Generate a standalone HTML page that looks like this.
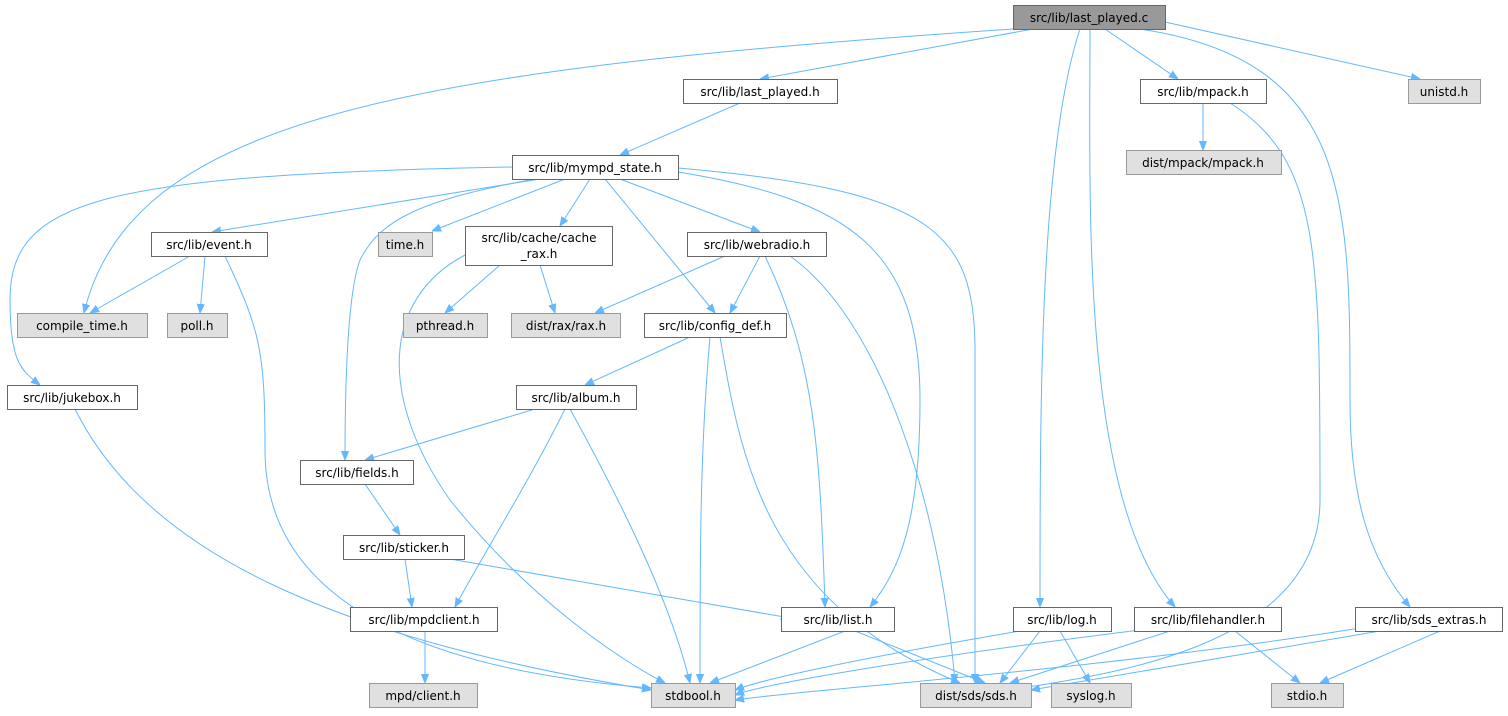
<!DOCTYPE html>
<html><head><meta charset="utf-8"><style>
html,body{margin:0;padding:0;background:#fff;}
svg text{font-family:"DejaVu Sans","Liberation Sans",sans-serif;font-size:12px;fill:#000;}
</style></head><body>
<svg width="1508" height="711" viewBox="0 0 1508 711" xmlns="http://www.w3.org/2000/svg">
<defs><marker id="a" viewBox="0 0 10 10" refX="10" refY="5" markerWidth="9" markerHeight="9" orient="auto" markerUnits="userSpaceOnUse"><path d="M0,1 L10,5 L0,9 z" fill="#63b8ff" stroke="#63b8ff"/></marker></defs>
<g fill="none" stroke="#63b8ff" stroke-width="1" marker-end="url(#a)">
<path d="M1033,29 L760,79"/>
<path d="M1013,29 C400,70 130,120 84,313"/>
<path d="M1080,29 C1040,150 1040,400 1040,607"/>
<path d="M1090,29 C1090,200 1080,500 1175,607"/>
<path d="M1105,29 L1178,79"/>
<path d="M1140,29 C1350,60 1350,200 1350,400 C1350,500 1370,560 1410,607"/>
<path d="M1165,22 L1420,79"/>
<path d="M740,103 L620,155"/>
<path d="M1203,103 L1203,150"/>
<path d="M1230,103 C1320,160 1320,250 1320,500 C1320,650 1100,675 1010,690"/>
<path d="M540,179 L212,232"/>
<path d="M565,179 L432,231"/>
<path d="M590,179 L560,226"/>
<path d="M620,179 L760,232"/>
<path d="M605,179 L715,313"/>
<path d="M512,167 C100,175 10,200 10,300 C10,360 20,370 40,385"/>
<path d="M535,179 C420,200 380,220 360,260 C345,300 345,420 345,460"/>
<path d="M678,172 C850,200 920,250 920,400 C920,520 900,570 870,607"/>
<path d="M678,168 C930,190 975,230 975,350 L975,683"/>
<path d="M190,256 L90,313"/>
<path d="M205,256 L200,313"/>
<path d="M225,256 C260,330 265,350 265,450 C265,600 420,670 651,688"/>
<path d="M500,265 L445,313"/>
<path d="M540,265 L555,313"/>
<path d="M465,255 C380,300 380,400 450,500 C530,600 620,660 665,683"/>
<path d="M725,256 L595,313"/>
<path d="M760,256 L730,313"/>
<path d="M765,256 C815,360 820,450 825,607"/>
<path d="M790,256 C880,320 940,500 955,683"/>
<path d="M690,337 L585,385"/>
<path d="M710,337 C700,450 700,550 700,683"/>
<path d="M720,337 C740,450 760,600 960,683"/>
<path d="M535,409 L365,460"/>
<path d="M565,409 C530,480 480,560 455,607"/>
<path d="M570,409 C620,500 670,600 690,683"/>
<path d="M365,484 L400,535"/>
<path d="M405,559 L412,607"/>
<path d="M450,559 L790,618"/>
<path d="M425,631 L425,683"/>
<path d="M75,409 C150,560 350,640 651,690"/>
<path d="M845,631 L710,683"/>
<path d="M855,631 L985,683"/>
<path d="M1020,631 C850,660 760,680 735,690"/>
<path d="M1040,631 L1000,683"/>
<path d="M1060,631 L1090,683"/>
<path d="M1140,630 C900,660 760,685 735,695"/>
<path d="M1170,631 L1010,683"/>
<path d="M1235,631 L1300,683"/>
<path d="M1360,628 C1100,670 800,690 735,700"/>
<path d="M1380,631 L1031,690"/>
<path d="M1440,631 L1320,683"/>
</g>
<g stroke-width="1">
<rect x="1013.5" y="5.5" width="152" height="24" fill="#999" stroke="#666"/><text x="1089" y="22" text-anchor="middle">src/lib/last_played.c</text>
<rect x="683.5" y="79.5" width="154" height="24" fill="#fff" stroke="#666"/><text x="760" y="96" text-anchor="middle">src/lib/last_played.h</text>
<rect x="1140.5" y="79.5" width="126" height="24" fill="#fff" stroke="#666"/><text x="1203" y="96" text-anchor="middle">src/lib/mpack.h</text>
<rect x="1408.5" y="79.5" width="72" height="24" fill="#e0e0e0" stroke="#999"/><text x="1444" y="96" text-anchor="middle">unistd.h</text>
<rect x="1126.5" y="150.5" width="155" height="24" fill="#e0e0e0" stroke="#999"/><text x="1203" y="167" text-anchor="middle">dist/mpack/mpack.h</text>
<rect x="512.5" y="155.5" width="166" height="24" fill="#fff" stroke="#666"/><text x="595" y="172" text-anchor="middle">src/lib/mympd_state.h</text>
<rect x="151.5" y="232.5" width="116" height="24" fill="#fff" stroke="#666"/><text x="209" y="249" text-anchor="middle">src/lib/event.h</text>
<rect x="378.5" y="232.5" width="54" height="24" fill="#e0e0e0" stroke="#999"/><text x="405" y="249" text-anchor="middle">time.h</text>
<rect x="465.5" y="226.5" width="147" height="39" fill="#fff" stroke="#666"/><text x="539" y="242" text-anchor="middle">src/lib/cache/cache</text><text x="539" y="258" text-anchor="middle">_rax.h</text>
<rect x="687.5" y="232.5" width="139" height="24" fill="#fff" stroke="#666"/><text x="757" y="249" text-anchor="middle">src/lib/webradio.h</text>
<rect x="17.5" y="313.5" width="130" height="24" fill="#e0e0e0" stroke="#999"/><text x="82" y="330" text-anchor="middle">compile_time.h</text>
<rect x="167.5" y="313.5" width="60" height="24" fill="#e0e0e0" stroke="#999"/><text x="197" y="330" text-anchor="middle">poll.h</text>
<rect x="403.5" y="313.5" width="84" height="24" fill="#e0e0e0" stroke="#999"/><text x="445" y="330" text-anchor="middle">pthread.h</text>
<rect x="511.5" y="313.5" width="109" height="24" fill="#e0e0e0" stroke="#999"/><text x="566" y="330" text-anchor="middle">dist/rax/rax.h</text>
<rect x="644.5" y="313.5" width="142" height="24" fill="#fff" stroke="#666"/><text x="715" y="330" text-anchor="middle">src/lib/config_def.h</text>
<rect x="7.5" y="385.5" width="130" height="24" fill="#fff" stroke="#666"/><text x="72" y="402" text-anchor="middle">src/lib/jukebox.h</text>
<rect x="516.5" y="385.5" width="120" height="24" fill="#fff" stroke="#666"/><text x="576" y="402" text-anchor="middle">src/lib/album.h</text>
<rect x="300.5" y="460.5" width="113" height="24" fill="#fff" stroke="#666"/><text x="357" y="477" text-anchor="middle">src/lib/fields.h</text>
<rect x="343.5" y="535.5" width="121" height="24" fill="#fff" stroke="#666"/><text x="404" y="552" text-anchor="middle">src/lib/sticker.h</text>
<rect x="350.5" y="607.5" width="147" height="24" fill="#fff" stroke="#666"/><text x="424" y="624" text-anchor="middle">src/lib/mpdclient.h</text>
<rect x="781.5" y="607.5" width="113" height="24" fill="#fff" stroke="#666"/><text x="838" y="624" text-anchor="middle">src/lib/list.h</text>
<rect x="1013.5" y="607.5" width="98" height="24" fill="#fff" stroke="#666"/><text x="1062" y="624" text-anchor="middle">src/lib/log.h</text>
<rect x="1134.5" y="607.5" width="147" height="24" fill="#fff" stroke="#666"/><text x="1208" y="624" text-anchor="middle">src/lib/filehandler.h</text>
<rect x="1355.5" y="607.5" width="147" height="24" fill="#fff" stroke="#666"/><text x="1429" y="624" text-anchor="middle">src/lib/sds_extras.h</text>
<rect x="369.5" y="683.5" width="108" height="24" fill="#e0e0e0" stroke="#999"/><text x="423" y="700" text-anchor="middle">mpd/client.h</text>
<rect x="651.5" y="683.5" width="84" height="24" fill="#e0e0e0" stroke="#999"/><text x="693" y="700" text-anchor="middle">stdbool.h</text>
<rect x="920.5" y="683.5" width="111" height="24" fill="#e0e0e0" stroke="#999"/><text x="976" y="700" text-anchor="middle">dist/sds/sds.h</text>
<rect x="1051.5" y="683.5" width="80" height="24" fill="#e0e0e0" stroke="#999"/><text x="1091" y="700" text-anchor="middle">syslog.h</text>
<rect x="1271.5" y="683.5" width="72" height="24" fill="#e0e0e0" stroke="#999"/><text x="1307" y="700" text-anchor="middle">stdio.h</text>
</g>
</svg>
</body></html>
